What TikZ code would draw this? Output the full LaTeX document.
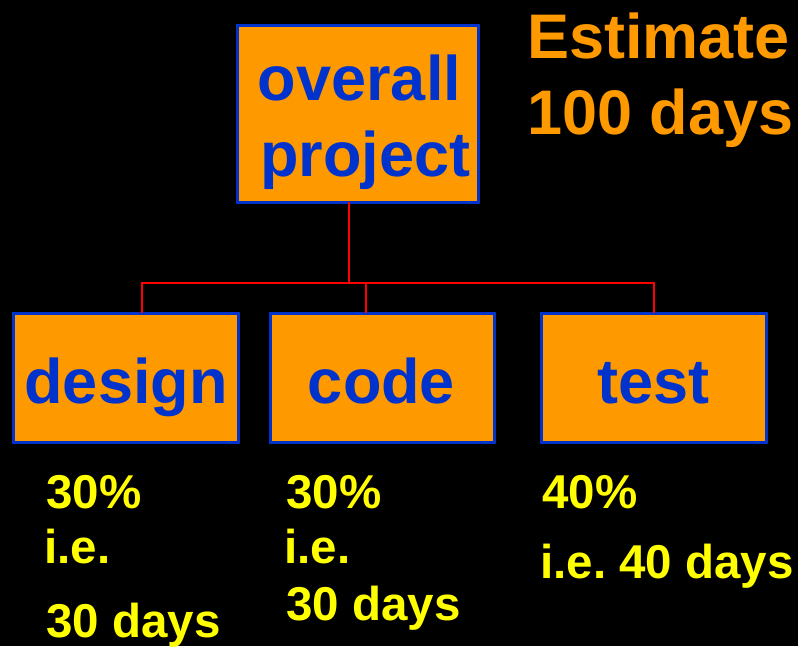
\documentclass[tikz,border=0pt]{standalone}
\usepackage{fontspec}
\setmainfont{Liberation Sans}
\definecolor{boxfill}{HTML}{FF9900}
\definecolor{boxline}{HTML}{0033CC}
\definecolor{boxtext}{HTML}{0033CC}
\definecolor{estim}{HTML}{FF9900}
\definecolor{note}{HTML}{FFFF00}
\definecolor{wirecol}{HTML}{FF0000}
\begin{document}
\begin{tikzpicture}[x=1pt,y=-1pt,
  task/.style={draw=boxline, line width=3pt, fill=boxfill, rectangle, inner sep=0pt, outer sep=0pt},
  tasklabel/.style={anchor=base, inner sep=0pt, text=boxtext, font=\fontsize{63}{76}\selectfont\bfseries},
  estlabel/.style={anchor=base west, inner sep=0pt, text=estim, font=\fontsize{63}{76}\selectfont\bfseries},
  notelabel/.style={anchor=base west, inner sep=0pt, text=note, font=\fontsize{47.5}{55}\selectfont\bfseries},
  wire/.style={draw=wirecol, line width=2pt}]
  % page background
  \fill[black] (0,0) rectangle (798,646);
  \useasboundingbox (0,0) rectangle (798,646);

  % task boxes
  \node[task, minimum width=241pt, minimum height=177pt] (overall) at (357.5,113.5) {};
  \node[task, minimum width=225pt, minimum height=129pt] (design) at (125.5,377.5) {};
  \node[task, minimum width=224pt, minimum height=129pt] (code) at (382,377.5) {};
  \node[task, minimum width=225pt, minimum height=129pt] (test) at (653.5,377.5) {};

  % connectors
  \draw[wire] ([xshift=-8.5pt]overall.south) -- ++(0,81);
  \draw[wire] ([xshift=16.5pt]design.north) -- ++(0,-30) -| (test.north);
  \draw[wire] ([xshift=-16pt]code.north) -- ++(0,-30);

  % box texts
  \node[tasklabel] (ovl1) at (359.5,100) {overall};
  \node[tasklabel] (ovl2) at (365.5,176) {project};
  \node[tasklabel] (dsl) at (126,403) {design};
  \node[tasklabel] (cdl) at (381.5,403) {code};
  \node[tasklabel] (tsl) at (653.5,403) {test};

  % estimate
  \node[estlabel] (est1) at (527,58) {Estimate};
  \node[estlabel] (est2) at (527,134) {100 days};

  % shares
  \node[notelabel] (d1) at (46,508) {30\%};
  \node[notelabel] (d2) at (44,563) {i.e.};
  \node[notelabel] (d3) at (46,637) {30 days};
  \node[notelabel] (c1) at (286,508) {30\%};
  \node[notelabel] (c2) at (284,563) {i.e.};
  \node[notelabel] (c3) at (286,620) {30 days};
  \node[notelabel] (t1) at (542,508) {40\%};
  \node[notelabel] (t2) at (540,578) {i.e.\ 40 days};
\end{tikzpicture}
\end{document}
